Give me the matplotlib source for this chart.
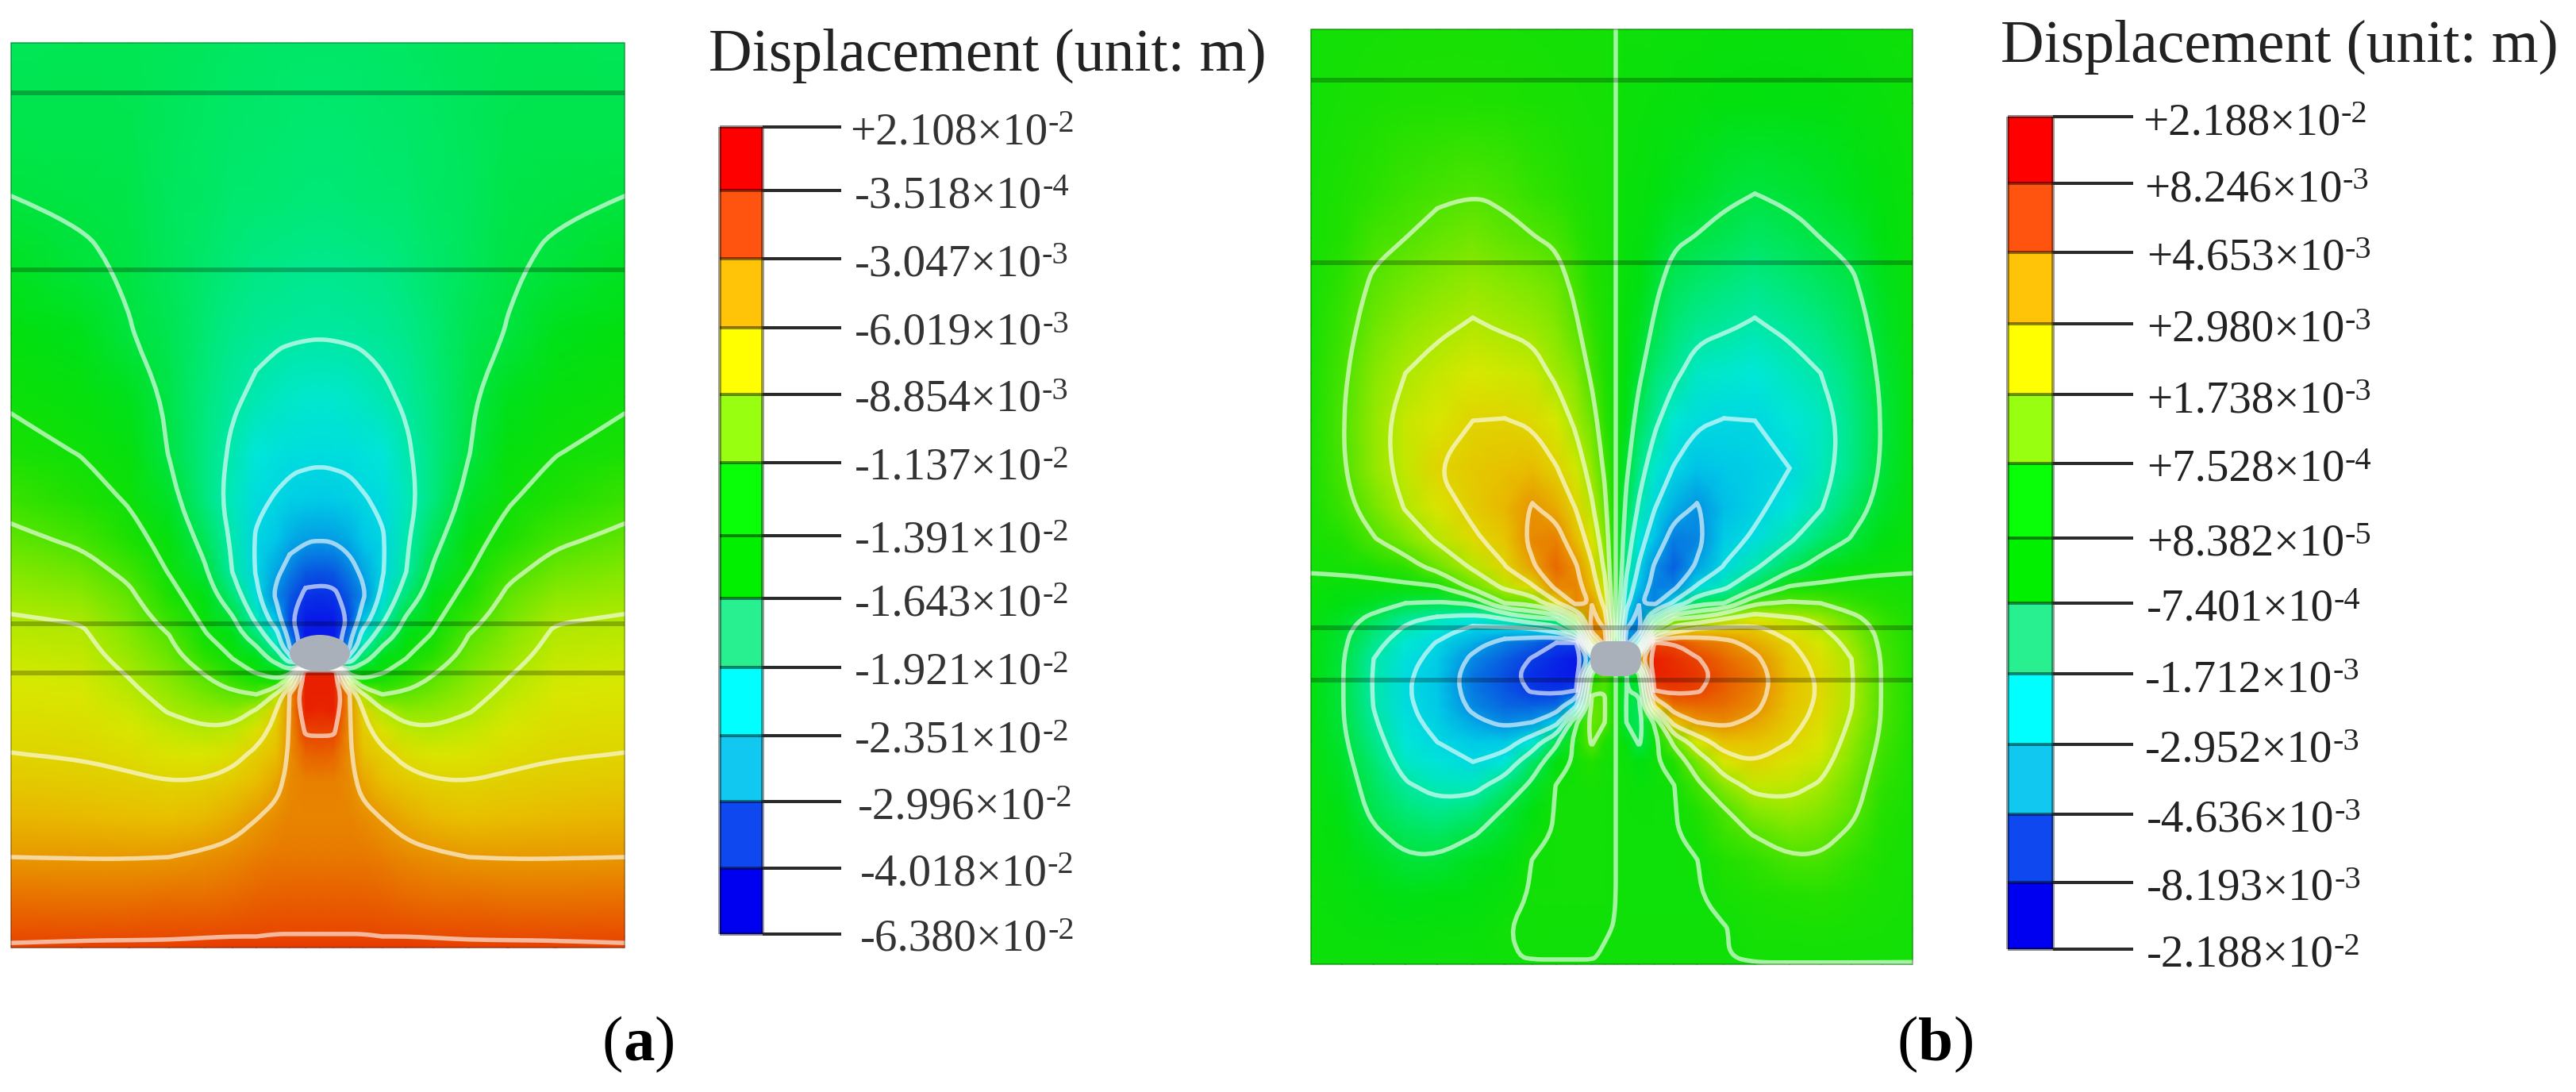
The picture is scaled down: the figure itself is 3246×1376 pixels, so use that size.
import numpy as np
import matplotlib
matplotlib.use("Agg")
import matplotlib.pyplot as plt
from matplotlib.colors import LinearSegmentedColormap, ListedColormap
from matplotlib.patches import Ellipse, FancyBboxPatch, PathPatch, Rectangle
from matplotlib.path import Path

plt.rcParams["font.family"] = ["Liberation Serif", "DejaVu Serif"]

# -------------------------------
# LEGEND TEXT
# -------------------------------
labels_a = ["+2.108", "-3.518", "-3.047", "-6.019", "-8.854", "-1.137", "-1.391",
            "-1.643", "-1.921", "-2.351", "-2.996", "-4.018", "-6.380"]
exps_a = ["-2", "-4", "-3", "-3", "-3", "-2", "-2", "-2", "-2", "-2", "-2", "-2", "-2"]
labels_b = ["+2.188", "+8.246", "+4.653", "+2.980", "+1.738", "+7.528", "+8.382",
            "-7.401", "-1.712", "-2.952", "-4.636", "-8.193", "-2.188"]
exps_b = ["-2", "-3", "-3", "-3", "-3", "-4", "-5", "-4", "-3", "-3", "-3", "-3", "-2"]

# legend bands, top to bottom
band_colors = ["#ff0000", "#ff5410", "#ffc408", "#ffff00", "#98ff10", "#08ff08",
               "#00f000", "#28f090", "#00ffff", "#10c8f0", "#1048f0", "#0000f0"]
# same bands as they look inside the model, bottom to top
field_colors = ["#0818e8", "#0868e0", "#00c8e8", "#00e8d8", "#00e870", "#00e010",
                "#20e000", "#80e800", "#d8e800", "#e8c000", "#e87000", "#e82000"]

# -------------------------------
# PANEL A: value = position on the legend, 0 bottom to 12 top
# left half, one list per distance from the tunnel axis
# -------------------------------
a_rows = [54, 150, 247, 330, 420, 500, 570, 630, 680, 720, 750, 780, 800, 815, 830, 846,
          860, 875, 895, 920, 950, 985, 1030, 1080, 1130, 1180, 1194]
a_dist = [0, 18, 38, 55, 80, 110, 145, 190, 240, 300, 389]

a_d0 = [4.6, 4.52, 4.45, 4.25, 4.04, 3.6, 3.17, 2.6, 2.02, 1.27, 0.8, 0.44, 0.2, 0.1, 0.1, 11.9,
        11.75, 11.6, 11.4, 11.1, 10.7, 10.3, 10.25, 10.4, 10.7, 11.02, 11.2]
a_d18 = [4.6, 4.52, 4.45, 4.25, 4.05, 3.62, 3.19, 2.65, 2.06, 1.34, 0.85, 0.55, 0.3, 0.3, 0.3, 11.9,
         11.8, 11.7, 11.5, 11.1, 10.65, 10.3, 10.25, 10.4, 10.7, 11.02, 11.2]
a_d38 = [4.6, 4.53, 4.47, 4.28, 4.07, 3.67, 3.23, 2.75, 2.22, 1.75, 1.36, 1.12, 1.65, 2.0, 3.5, 5.2,
         8.0, 10.02, 10.05, 10.07, 10.1, 10.15, 10.25, 10.4, 10.7, 11.02, 11.2]
a_d55 = [4.6, 4.55, 4.5, 4.31, 4.09, 3.75, 3.32, 2.93, 2.49, 2.13, 1.86, 2.45, 3.31, 3.88, 4.71, 5.5,
         6.25, 8.09, 9.0, 9.23, 9.51, 9.84, 10.14, 10.4, 10.69, 11.02, 11.2]
a_d80 = [4.62, 4.57, 4.52, 4.34, 4.14, 3.9, 3.49, 3.14, 2.92, 2.93, 3.21, 3.83, 4.46, 5.03, 5.46, 5.91,
         6.42, 7.0, 8.05, 8.64, 9.15, 9.52, 9.98, 10.32, 10.66, 11.0, 11.2]
a_d110 = [4.65, 4.59, 4.53, 4.44, 4.25, 4.08, 3.9, 3.77, 3.89, 3.98, 4.43, 5.09, 5.45, 5.73, 6.0, 6.4,
          6.75, 7.12, 7.61, 8.18, 8.76, 9.25, 9.74, 10.2, 10.58, 11.0, 11.2]
a_d145 = [4.7, 4.66, 4.63, 4.57, 4.48, 4.4, 4.34, 4.38, 4.76, 5.1, 5.45, 5.81, 6.07, 6.35, 6.63, 6.93,
          7.15, 7.38, 7.69, 8.08, 8.54, 9.06, 9.57, 10.1, 10.5, 10.98, 11.15]
a_d190 = [4.75, 4.73, 4.71, 4.73, 4.82, 4.9, 4.97, 5.25, 5.64, 5.95, 6.32, 6.73, 7.0, 7.15, 7.3, 7.46,
          7.6, 7.75, 7.95, 8.24, 8.6, 9.01, 9.48, 10.0, 10.5, 10.96, 11.1]
a_d240 = [4.8, 4.85, 4.91, 4.95, 5.02, 5.36, 5.66, 5.91, 6.36, 6.83, 7.13, 7.38, 7.55, 7.67, 7.79, 7.93,
          8.04, 8.17, 8.34, 8.55, 8.81, 9.11, 9.52, 9.98, 10.45, 10.95, 11.1]
a_d300 = [4.8, 4.87, 4.95, 5.06, 5.39, 5.69, 5.96, 6.43, 6.87, 7.29, 7.62, 7.95, 8.09, 8.17, 8.26, 8.35,
          8.43, 8.51, 8.63, 8.77, 8.94, 9.2, 9.57, 9.98, 10.45, 10.94, 11.1]
a_d389 = [4.75, 4.87, 5.0, 5.29, 5.6, 5.88, 6.28, 6.75, 7.17, 7.53, 7.81, 8.05, 8.16, 8.25, 8.33, 8.42,
          8.5, 8.58, 8.7, 8.84, 9.01, 9.27, 9.62, 10.0, 10.47, 10.93, 11.05]

# -------------------------------
# PANEL B, same idea, left half; the right half reads as its mirror around the legend middle
# -------------------------------
b_rows = [37, 130, 244, 300, 360, 410, 470, 530, 590, 640, 680, 715, 740, 760, 780, 795,
          810, 830, 850, 870, 890, 910, 935, 960, 990, 1020, 1050, 1085, 1130, 1170, 1205, 1215]
b_dist = [2, 14, 30, 50, 75, 105, 140, 180, 225, 265, 305, 345, 384]

b_d2 = [6.03, 6.03, 6.04, 6.04, 6.05, 6.05, 6.06, 6.07, 6.08, 6.1, 6.12, 6.15, 6.2, 6.3, 6.5, 6.8,
        6.5, 6.2, 6.1, 6.1, 6.08, 6.06, 6.05, 6.04, 6.03, 6.03, 6.03, 6.03, 6.02, 5.99, 5.97, 5.97]
b_d14 = [6.1, 6.15, 6.2, 6.25, 6.3, 6.35, 6.45, 6.6, 6.88, 7.2, 7.55, 7.85, 8.3, 8.75, 9.5, 10.1,
         10.5, 6.5, 7.0, 7.0, 7.05, 7.02, 6.4, 6.1, 6.06, 6.05, 6.05, 6.05, 6.05, 6.03, 5.97, 5.97]
b_d30 = [6.1, 6.15, 6.25, 6.35, 6.5, 6.65, 6.87, 7.27, 7.7, 8.1, 8.6, 9.1, 9.55, 9.95, 10.3, 10.2,
         8.0, 2.5, 6.0, 6.9, 7.2, 7.25, 7.1, 6.5, 6.2, 6.1, 6.08, 6.06, 6.05, 6.03, 6.02, 5.97]
b_d50 = [6.1, 6.2, 6.4, 6.6, 6.85, 7.07, 7.5, 7.85, 8.4, 8.96, 9.55, 10.08, 10.25, 10.2, 7.5, 5.0,
         1.0, 0.5, 0.5, 1.0, 3.0, 5.9, 6.3, 6.15, 6.1, 6.08, 6.07, 6.06, 6.05, 6.03, 6.02, 5.97]
b_d75 = [6.12, 6.25, 6.6, 6.9, 7.3, 7.52, 7.85, 8.45, 9.04, 9.75, 10.3, 10.6, 10.2, 8.85, 5.0, 3.25,
         1.0, 0.7, 0.6, 0.85, 1.55, 2.65, 4.85, 5.5, 6.03, 6.06, 6.06, 6.05, 6.05, 6.03, 6.02, 5.97]
b_d105 = [6.15, 6.3, 6.7, 7.03, 7.46, 7.8, 8.3, 8.88, 9.55, 10.06, 10.2, 9.9, 8.86, 7.3, 4.7, 2.6,
          1.5, 0.95, 0.8, 0.93, 1.43, 2.0, 3.5, 4.6, 5.18, 5.5, 5.77, 6.02, 6.05, 6.04, 6.02, 5.97]
b_d140 = [6.2, 6.4, 6.9, 7.16, 7.6, 7.92, 8.4, 9.03, 9.45, 9.6, 9.35, 8.95, 8.15, 7.0, 4.0, 2.5,
          1.75, 1.4, 1.2, 1.3, 1.5, 1.85, 2.55, 3.45, 4.4, 5.05, 5.25, 5.5, 5.8, 5.99, 5.98, 5.95]
b_d180 = [6.2, 6.45, 7.0, 7.35, 7.75, 8.06, 8.5, 9.0, 9.28, 9.2, 8.85, 8.1, 7.2, 5.1, 3.5, 2.65,
          2.25, 1.85, 1.65, 1.7, 1.85, 2.15, 2.6, 3.0, 3.75, 4.4, 4.95, 5.35, 5.6, 5.8, 5.9, 5.9]
b_d225 = [6.2, 6.45, 6.9, 7.2, 7.55, 7.87, 8.25, 8.55, 9.0, 8.6, 8.1, 7.25, 5.9, 4.9, 3.85, 3.4,
          2.95, 2.7, 2.55, 2.5, 2.6, 2.75, 3.0, 3.35, 3.8, 4.2, 4.65, 5.1, 5.5, 5.75, 5.9, 5.9]
b_d265 = [6.2, 6.4, 6.78, 7.0, 7.35, 7.65, 8.0, 8.28, 8.25, 8.05, 7.45, 6.65, 5.8, 5.0, 4.15, 3.85,
          3.55, 3.3, 3.15, 3.1, 3.15, 3.25, 3.45, 3.7, 4.08, 4.43, 4.75, 5.1, 5.45, 5.7, 5.88, 5.9]
b_d305 = [6.15, 6.3, 6.6, 6.85, 7.1, 7.3, 7.55, 7.72, 7.7, 7.35, 6.95, 6.3, 5.75, 5.3, 4.8, 4.5,
          4.25, 4.0, 3.95, 3.95, 3.98, 4.1, 4.3, 4.5, 4.7, 4.85, 5.1, 5.35, 5.6, 5.75, 5.88, 5.9]
b_d345 = [6.1, 6.2, 6.4, 6.5, 6.65, 6.75, 6.88, 6.96, 6.92, 6.75, 6.5, 6.15, 5.75, 5.5, 5.3, 5.2,
          5.15, 5.07, 5.05, 5.05, 5.05, 5.07, 5.15, 5.25, 5.35, 5.45, 5.55, 5.65, 5.75, 5.82, 5.88, 5.9]
b_d384 = [6.05, 6.08, 6.15, 6.18, 6.22, 6.25, 6.3, 6.32, 6.32, 6.28, 6.2, 6.05, 5.88, 5.78, 5.7, 5.67,
          5.65, 5.62, 5.6, 5.6, 5.6, 5.62, 5.65, 5.68, 5.72, 5.75, 5.78, 5.82, 5.85, 5.88, 5.9, 5.92]

# last three rows of the right half do not follow the mirror
b_right_1170 = [5.99, 5.97, 5.97, 5.97, 5.97, 5.96, 5.97, 6.2, 6.25, 6.3, 6.25, 6.18, 6.12]
b_right_1205 = [5.97, 5.97, 5.98, 5.98, 5.98, 5.98, 5.98, 6.1, 6.1, 6.1, 6.1, 6.09, 6.08]
b_right_1215 = [5.97] * 13

# -------------------------------
# LAYOUT (pixels of the 3246x1376 picture)
# -------------------------------
ticks_a = [160, 240, 326, 413, 497, 583, 675, 754, 841, 927, 1010, 1094, 1177]
ticks_b = [147, 231, 318, 408, 497, 584, 678, 760, 849, 938, 1026, 1112, 1196]
label_x_a = [1071, 1077, 1077, 1077, 1077, 1077, 1077, 1077, 1077, 1077, 1081, 1084, 1084]
label_x_b = [2700, 2702, 2705, 2705, 2705, 2705, 2705, 2705, 2703, 2703, 2705, 2705, 2705]

fig = plt.figure(figsize=(32.46, 13.76), dpi=100)
ax = fig.add_axes([0, 0, 1, 1])
ax.set_xlim(0, 3246)
ax.set_ylim(1376, 0)
ax.axis("off")

px = 0.72  # one pixel in points

nodes = [0.0] + [(i + 0.5) / 12 for i in range(12)] + [1.0]
node_colors = [field_colors[0]] + field_colors + [field_colors[-1]]
field_cmap = LinearSegmentedColormap.from_list("field", list(zip(nodes, node_colors)), N=1024)


def rounded_path(pts):
    # same vertices, drawn as quadratic curves so the corners do not show
    if len(pts) < 3:
        return Path(pts)
    verts = [pts[0]]
    codes = [Path.MOVETO]
    for i in range(1, len(pts) - 1):
        end = pts[i + 1] if i == len(pts) - 2 else (pts[i] + pts[i + 1]) / 2
        verts += [pts[i], end]
        codes += [Path.CURVE3, Path.CURVE3]
    return Path(verts, codes)


def draw_field(xs, ys, z, left, right, top, bottom, layers):
    ax.pcolormesh(xs, ys, z, shading="gouraud", cmap=field_cmap, vmin=0, vmax=12, zorder=1)
    cs = ax.contour(xs, ys, z, levels=np.arange(1, 12), colors="white")
    for path in cs.get_paths():
        for pts in path.to_polygons(closed_only=False):
            ax.add_patch(PathPatch(rounded_path(pts), fill=False, ec="white", lw=5.5 * px,
                                   alpha=0.62, capstyle="round", zorder=2))
    cs.remove()
    ax.hlines(layers, left, right, colors="black", linewidths=6 * px, alpha=0.25, zorder=3)
    ax.add_patch(Rectangle((left, top), right - left, bottom - top, fill=False,
                           ec="black", lw=2 * px, alpha=0.25, zorder=3))


def draw_legend(x0, x1, x_end, ticks, labels, exps, label_x, drop, title_x, title_y, color):
    vals = np.arange(12).reshape(-1, 1)
    ax.pcolormesh([x0, x1], ticks, vals, cmap=ListedColormap(band_colors), vmin=-0.5, vmax=11.5,
                  zorder=1)
    ax.hlines(ticks, x0, x1, colors="black", linewidths=4 * px, alpha=0.45, zorder=2)
    ax.vlines([x0, x1], ticks[0], ticks[-1], colors="black", linewidths=4 * px, alpha=0.4, zorder=2)
    ax.hlines(ticks, x1, x_end, colors="#2a2a2a", linewidths=4 * px, zorder=2)
    for y, lab, ex, lx in zip(ticks, labels, exps, label_x):
        t = ax.text(lx, y + drop, lab + "\u00d710", fontsize=41, color=color, va="baseline", ha="left")
        ax.annotate(ex, xy=(1, 0), xycoords=t, xytext=(0, 19.5), textcoords="offset points",
                    fontsize=29, color=color, va="baseline", ha="left")
    ax.text(title_x, title_y, "Displacement (unit: m)", fontsize=54.5, color="#222222",
            va="baseline", ha="left")


def panel_label(x, y, letter):
    t0 = ax.text(x, y, "(", fontsize=57, color="black", va="baseline", ha="left")
    t1 = ax.annotate(letter, xy=(1, 0), xycoords=t0, xytext=(0, 0), textcoords="offset points",
                     fontsize=57, fontweight="bold", color="black", va="bottom", ha="left")
    ax.annotate(")", xy=(1, 0), xycoords=t1, xytext=(0, 0), textcoords="offset points",
                fontsize=57, color="black", va="bottom", ha="left")


# -------------------------------
# (a)
# -------------------------------
a_half = np.column_stack([a_d0, a_d18, a_d38, a_d55, a_d80, a_d110, a_d145, a_d190, a_d240, a_d300, a_d389])
a_d = np.array(a_dist, dtype=float)
a_x = np.concatenate([403 - a_d[:0:-1], 403 + a_d * 384 / 389])
a_z = np.hstack([a_half[:, :0:-1], a_half])
draw_field(a_x, a_rows, a_z, 14, 787, 54, 1194, [117, 340, 786, 848])
ax.add_patch(Ellipse((403, 823), 76, 46, fc="#aab0ba", ec="none", zorder=4))
draw_legend(907, 961, 1060, ticks_a, labels_a, exps_a, label_x_a, 21, 893, 89, "#333333")
panel_label(759, 1335, "a")

# -------------------------------
# (b)
# -------------------------------
b_left = np.column_stack([b_d2, b_d14, b_d30, b_d50, b_d75, b_d105, b_d140, b_d180, b_d225, b_d265,
                          b_d305, b_d345, b_d384])
b_right = 12 - b_left
b_right[-3:] = np.array([b_right_1170, b_right_1205, b_right_1215])
b_d = np.array(b_dist, dtype=float)
b_x = np.concatenate([2036 - b_d[::-1], 2036 + b_d * 374 / 384])
b_z = np.hstack([b_left[:, ::-1], b_right])
draw_field(b_x, b_rows, b_z, 1652, 2410, 37, 1215, [101, 331, 791, 857])
ax.add_patch(FancyBboxPatch((2010, 814), 52, 32, boxstyle="round,pad=0,rounding_size=14",
                            mutation_aspect=1, fc="#aab0ba", ec="#aab0ba", lw=12 * px, zorder=4))
draw_legend(2530, 2587, 2688, ticks_b, labels_b, exps_b, label_x_b, 22, 2521, 78, "#222222")
panel_label(2391, 1335, "b")

fig.savefig("out.png", dpi=100, facecolor="white")
print("saved out.png")
